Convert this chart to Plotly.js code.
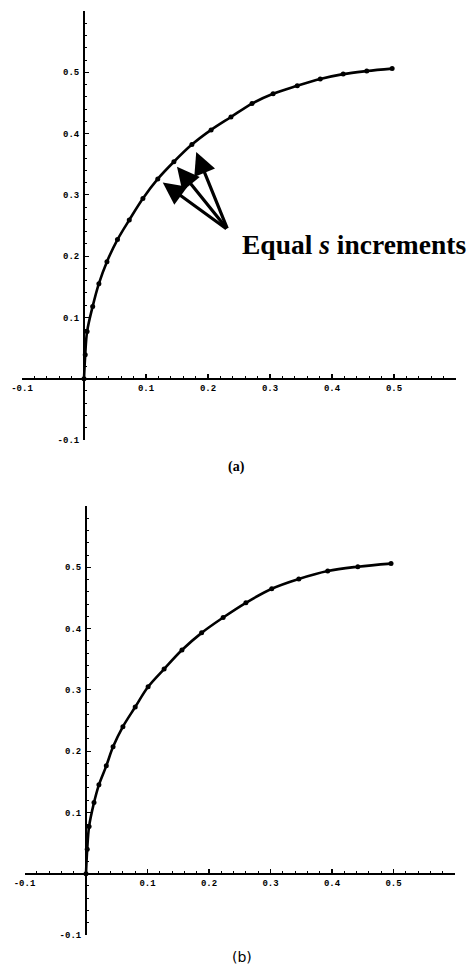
<!DOCTYPE html>
<html>
<head>
<meta charset="utf-8">
<script src="https://cdn.plot.ly/plotly-3.0.1.min.js"></script>
<style>html,body{margin:0;padding:0;background:#fff;}#chart{width:473px;height:966px;}</style>
</head>
<body>
<div id="chart"></div>
<script>
// Panel (a): equal s increments
const xA = [0, 0.002, 0.005, 0.014, 0.024, 0.037, 0.054, 0.073, 0.095, 0.119, 0.145, 0.174, 0.205, 0.237, 0.271, 0.305, 0.344, 0.381, 0.418, 0.456, 0.497];
const yA = [0, 0.039, 0.077, 0.118, 0.155, 0.191, 0.227, 0.259, 0.294, 0.326, 0.354, 0.382, 0.406, 0.427, 0.449, 0.465, 0.478, 0.489, 0.497, 0.502, 0.506];
// Panel (b)
const xB = [0, 0.002, 0.005, 0.013, 0.021, 0.033, 0.044, 0.060, 0.080, 0.101, 0.127, 0.156, 0.188, 0.223, 0.260, 0.302, 0.346, 0.393, 0.442, 0.496];
const yB = [0, 0.040, 0.077, 0.116, 0.145, 0.176, 0.207, 0.240, 0.272, 0.305, 0.334, 0.365, 0.393, 0.418, 0.442, 0.465, 0.481, 0.494, 0.501, 0.506];
// Tick labels
const xTicks = [-0.1, 0.1, 0.2, 0.3, 0.4, 0.5];
const yTicks = [-0.1, 0.1, 0.2, 0.3, 0.4, 0.5];
const minorTicks = [-0.08, -0.06, -0.04, -0.02, 0.02, 0.04, 0.06, 0.08, 0.12, 0.14, 0.16, 0.18, 0.22, 0.24, 0.26, 0.28,
  0.32, 0.34, 0.36, 0.38, 0.42, 0.44, 0.46, 0.48, 0.52, 0.54, 0.56, 0.58];
// Arrow heads (on curve) and common tail, panel (a)
const arrowHeadX = [0.127, 0.150, 0.181];
const arrowHeadY = [0.320, 0.346, 0.370];
const arrowTail = [0.232, 0.243];
const labelText = 'Equal <i>s</i> increments';
const captions = ['(a)', '(b)'];

const xRange = [-0.1, 0.6], yRange = [-0.1, 0.6];
const domXA = [22/473, 456/473], domYA = [(966-440)/966, (966-11)/966];
const domXB = [24.5/473, 455/473], domYB = [(966-935)/966, (966-506)/966];
function zeroPos(dom, rng){ return dom[0] + (0 - rng[0])/(rng[1]-rng[0])*(dom[1]-dom[0]); }

const tickFont = {family: 'Liberation Mono, DejaVu Sans Mono, monospace', size: 9, color: '#000', weight: 'bold'};
function common(ticks){
  return {showline: true, linewidth: 2.2, linecolor: '#000', showgrid: false, zeroline: false,
    ticks: 'inside', ticklen: 4, tickwidth: 1.2, tickcolor: '#000',
    tickmode: 'array', tickvals: ticks, ticktext: ticks.map(v => v.toFixed(1)), tickfont: tickFont,
    minor: {ticks: 'inside', ticklen: 2, tickwidth: 1, tickcolor: '#000', tickmode: 'array', tickvals: minorTicks, showgrid: false},
    fixedrange: true};
}
function xax(dom, anchorPos){
  return Object.assign({domain: dom, range: xRange, anchor: 'free', position: anchorPos}, common(xTicks));
}
function yax(dom, anchorPos){
  return Object.assign({domain: dom, range: yRange, anchor: 'free', position: anchorPos, ticklabelstandoff: 2}, common(yTicks));
}

const traces = [
  {x: xA, y: yA, xaxis: 'x', yaxis: 'y', mode: 'lines+markers', line: {color: '#000', width: 2.6, shape: 'spline'},
   marker: {color: '#000', size: 5}, hoverinfo: 'skip', cliponaxis: false},
  {x: xB, y: yB, xaxis: 'x2', yaxis: 'y2', mode: 'lines+markers', line: {color: '#000', width: 2.6, shape: 'spline'},
   marker: {color: '#000', size: 5}, hoverinfo: 'skip', cliponaxis: false}
];

const annotations = [];
for (let i = 0; i < arrowHeadX.length; i++) {
  annotations.push({xref: 'x', yref: 'y', x: arrowHeadX[i], y: arrowHeadY[i], axref: 'x', ayref: 'y',
    ax: arrowTail[0], ay: arrowTail[1], text: '', showarrow: true, arrowhead: 2, arrowsize: 1.4, arrowwidth: 3.2, arrowcolor: '#000', standoff: 0});
}
annotations.push({xref: 'x', yref: 'y', x: 0.2516, y: 0.2186, xanchor: 'left', yanchor: 'middle', showarrow: false,
  text: labelText, font: {family: 'Liberation Serif, DejaVu Serif, serif', size: 27.5, color: '#000', weight: 'bold'}});
annotations.push({xref: 'paper', yref: 'paper', x: 236/473, y: (966-467)/966, xanchor: 'center', yanchor: 'middle', showarrow: false,
  text: captions[0], font: {family: 'Liberation Serif, serif', size: 14, color: '#000', weight: 'bold'}});
annotations.push({xref: 'paper', yref: 'paper', x: 242/473, y: (966-957)/966, xanchor: 'center', yanchor: 'middle', showarrow: false,
  text: captions[1], font: {family: 'DejaVu Sans, sans-serif', size: 14, color: '#000'}});

const layout = {
  width: 473, height: 966, margin: {l: 0, r: 0, t: 0, b: 0}, showlegend: false,
  paper_bgcolor: '#fff', plot_bgcolor: '#fff',
  xaxis: xax(domXA, zeroPos(domYA, yRange)),
  yaxis: yax(domYA, zeroPos(domXA, xRange)),
  xaxis2: xax(domXB, zeroPos(domYB, yRange)),
  yaxis2: yax(domYB, zeroPos(domXB, xRange)),
  annotations: annotations
};
Plotly.newPlot('chart', traces, layout, {staticPlot: true, displayModeBar: false});
</script>
</body>
</html>
